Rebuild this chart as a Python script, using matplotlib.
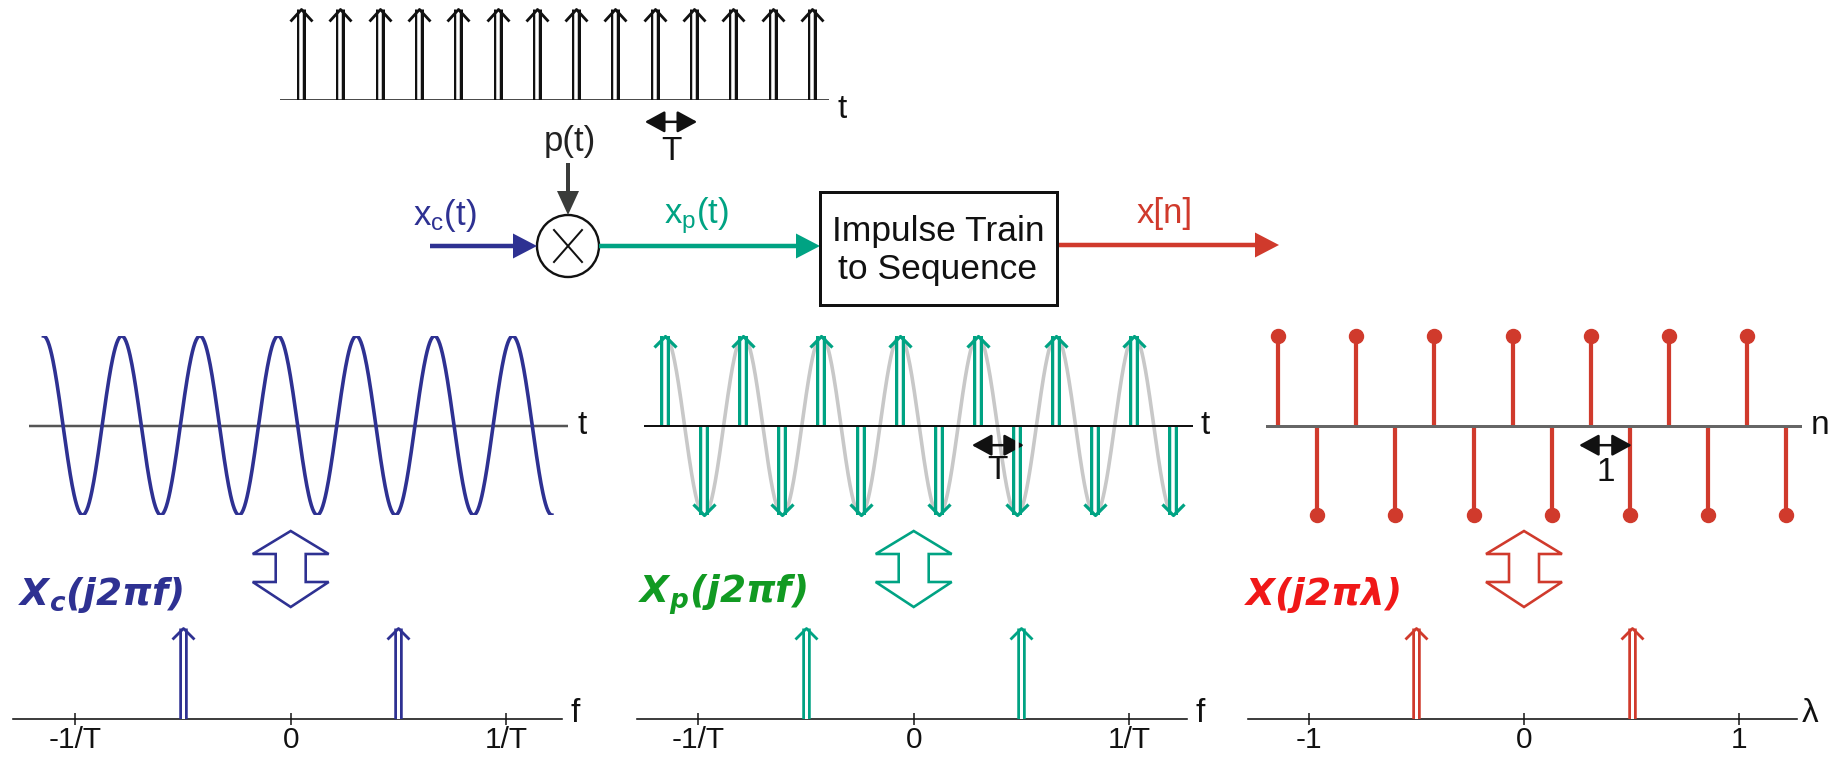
import numpy as np
import matplotlib.pyplot as plt
from matplotlib.path import Path
from matplotlib.patches import Polygon, Circle, Rectangle

W, H = 1836, 763
DPI = 100
PT = 72 / DPI  # points per pixel

plt.rcParams['font.family'] = ['Liberation Sans', 'DejaVu Sans']
plt.rcParams['mathtext.fontset'] = 'custom'
plt.rcParams['mathtext.rm'] = 'Liberation Sans'
plt.rcParams['mathtext.it'] = 'Liberation Sans:italic'
plt.rcParams['mathtext.bf'] = 'DejaVu Sans:italic:bold'
plt.rcParams['mathtext.default'] = 'rm'

BLUE = '#2E3192'
TEAL = '#00A383'
RED = '#D03A2C'
GRAY = '#C8C8C8'
DARK = '#3A3C3A'
INK = '#111111'

# ---- data (time in units of T, frequency in units of 1/T) ----
p_n = np.arange(14)                      # impulse train p(t)
p_h = [1] * 14
n_idx = np.arange(14)                    # sample index
x_n = [1, -1, 1, -1, 1, -1, 1, -1, 1, -1, 1, -1, 1, -1]
f0 = 0.5                                 # cosine frequency (1/T units)
t_end = 13                               # continuous signal shown on [0, 13T]
spec_f = [-0.5, 0.5]
spec_a = [1, 1]
tick_pos = [-1, 0, 1]
tick_f = ['-1/T', '0', '1/T']
tick_lam = ['-1', '0', '1']

t = np.linspace(0, t_end, 800)
x_c = np.cos(2 * np.pi * f0 * t)

fig = plt.figure(figsize=(W / DPI, H / DPI), dpi=DPI)
ov = fig.add_axes([0, 0, 1, 1])
ov.set_xlim(0, W)
ov.set_ylim(H, 0)
ov.axis('off')


def px_axes(x0, x1, y0, y1, xlim, ylim, off=True):
    a = fig.add_axes([x0 / W, 1 - y1 / H, (x1 - x0) / W, (y1 - y0) / H])
    a.set_xlim(*xlim)
    a.set_ylim(*ylim)
    a.patch.set_alpha(0)
    if off:
        a.axis('off')
    return a


def chevron(hw, hh, up=True):
    m = max(hw, hh)
    s = -1 if up else 1
    verts = [(-hw / m, s * hh / m), (0, 0), (hw / m, s * hh / m)]
    return Path(verts, [Path.MOVETO, Path.LINETO, Path.LINETO]), 2 * m * PT


def impulses(a, xs, hs, color, width=9, gap=3.5, hw=10, hh=11, lwh=2.5):
    up_m, ms = chevron(hw, hh, True)
    dn_m, _ = chevron(hw, hh, False)
    for x, h in zip(xs, hs):
        a.plot([x, x], [0, h], color=color, lw=width * PT, solid_capstyle='butt', zorder=3)
        a.plot([x, x], [0, h], color='white', lw=gap * PT, solid_capstyle='butt', zorder=3.1)
        a.plot([x], [h], marker=up_m if h > 0 else dn_m, ms=ms, mfc='none',
               mec=color, mew=lwh * PT, zorder=3.2, clip_on=False)


def end_label(a, s, dx, dy, size=24):
    a.annotate(s, xy=(1, 0), xycoords=('axes fraction', 'data'),
               xytext=(dx * PT, dy * PT), textcoords='offset points',
               ha='center', va='center', fontsize=size, color=INK,
               annotation_clip=False)


def span_arrow(a, x0, x1, y, label, ly):
    a.annotate('', xy=(x1, y), xytext=(x0, y),
               arrowprops=dict(arrowstyle='<|-|>,head_length=0.55,head_width=0.3',
                               color=INK, lw=1.8, shrinkA=0, shrinkB=0,
                               mutation_scale=22), annotation_clip=False)
    a.text((x0 + x1) / 2, ly, label, ha='center', va='center', fontsize=24,
           color=INK, clip_on=False)


# ---- top: impulse train p(t) ----
T_px = 39.3
top = px_axes(280, 829, 9, 100, ((280 - 301) / T_px, (829 - 301) / T_px), (0, 1))
impulses(top, p_n, p_h, INK, width=9, gap=3.5, hw=11, hh=12, lwh=2.8)
top.axhline(0, color=INK, lw=1.5 * PT, zorder=4)
end_label(top, 't', 13, -10)
span_arrow(top, 8.75, 10.08, -0.24, 'T', -0.57)

# ---- block diagram ----
ROW = 246
cx, r = 568, 31
ov.add_patch(Circle((cx, ROW), r, fill=False, lw=2.4 * PT, ec=INK))
ov.plot([cx - 14, cx + 14], [ROW - 16, ROW + 16], color=INK, lw=2 * PT)
ov.plot([cx - 14, cx + 14], [ROW + 16, ROW - 16], color=INK, lw=2 * PT)
ov.text(cx + 2, 142, 'p(t)', ha='center', va='center', fontsize=25, color='#222222')
ov.arrow(cx, 163, 0, ROW - r - 163, width=4, head_width=22, head_length=24,
         length_includes_head=True, color=DARK, lw=0)
ov.arrow(430, ROW, cx - r - 430, 0, width=4.5, head_width=25, head_length=24,
         length_includes_head=True, color=BLUE, lw=0)
ov.arrow(cx + r, ROW, 820 - cx - r, 0, width=4.5, head_width=25, head_length=24,
         length_includes_head=True, color=TEAL, lw=0)
ov.arrow(1057, ROW - 1, 1279 - 1057, 0, width=4.5, head_width=25, head_length=24,
         length_includes_head=True, color=RED, lw=0)
ov.add_patch(Rectangle((820, 192), 237, 113, fill=False, lw=3 * PT, ec=INK))
ov.text(938, 231, 'Impulse Train', ha='center', va='center', fontsize=25.5, color=INK)
ov.text(938, 270, 'to Sequence', ha='center', va='center', fontsize=25.5, color=INK)
ov.text(445, 216, r'$\mathrm{x_c(t)}$', ha='center', va='center', fontsize=25, color=BLUE)
ov.text(696, 216, r'$\mathrm{x_p(t)}$', ha='center', va='center', fontsize=25, color=TEAL)
ov.text(1165, 214, 'x[n]', ha='center', va='center', fontsize=25, color=RED)

# ---- time-domain panels ----
Y0, Y1 = 336, 515
Tp = 39.1

a1 = px_axes(29, 568, Y0, Y1, ((29 - 43.5) / Tp, (568 - 43.5) / Tp), (-1, 1))
a1.axhline(0, color='#555555', lw=2.5 * PT, zorder=1)
a1.plot(t, x_c, color=BLUE, lw=3.6 * PT, zorder=2)
end_label(a1, 't', 14, 0)

a2 = px_axes(644, 1193, Y0, Y1, ((644 - 665) / Tp, (1193 - 665) / Tp), (-1, 1))
a2.plot(t, x_c, color=GRAY, lw=3.6 * PT, zorder=1)
impulses(a2, n_idx, x_n, TEAL, width=10, gap=3.5, hw=11, hh=11, lwh=3.2)
a2.axhline(0, color=INK, lw=2 * PT, zorder=4)
end_label(a2, 't', 12, 0)
span_arrow(a2, 7.85, 9.18, -0.22, 'T', -0.5)

a3 = px_axes(1266, 1802, Y0, Y1, ((1266 - 1278) / Tp, (1802 - 1278) / Tp), (-1, 1))
a3.vlines(n_idx, 0, x_n, color=RED, lw=4.2 * PT, zorder=2)
a3.plot(n_idx, x_n, 'o', color=RED, ms=14 * PT, zorder=3, clip_on=False)
a3.axhline(0, color='#666666', lw=3 * PT, zorder=4)
end_label(a3, 'n', 18, 0)
span_arrow(a3, 7.7, 9.05, -0.22, '1', -0.53)

# ---- spectra ----
S_px = 215.4
SY0, SY1 = 628, 719
specs = [
    (13, 562, 290.7, BLUE, tick_f, 'f', r'$\mathbf{X_c(j2\pi f)}$', BLUE, 18),
    (637, 1187, 913.7, TEAL, tick_f, 'f', r'$\mathbf{X_p(j2\pi f)}$', '#119A22', 638),
    (1248, 1797, 1524, RED, tick_lam, r'$\lambda$', r'$\mathbf{X(j2\pi\lambda)}$', '#F01818', 1244),
]
for x0, x1, c0, col, tl, axl, lab, labcol, lx in specs:
    a = px_axes(x0, x1, SY0, SY1, ((x0 - c0) / S_px, (x1 - c0) / S_px), (0, 1), off=False)
    for s in ('top', 'left', 'right'):
        a.spines[s].set_visible(False)
    a.spines['bottom'].set_linewidth(1.6 * PT)
    a.spines['bottom'].set_color(INK)
    a.set_yticks([])
    a.set_xticks(tick_pos, tl)
    a.tick_params(axis='x', direction='inout', length=12 * PT, width=1.5 * PT,
                  labelsize=21.5, pad=1, colors=INK)
    impulses(a, spec_f, spec_a, col, width=8.5, gap=3, hw=11, hh=11, lwh=2.8)
    end_label(a, axl, 13, 6)
    # hollow up/down arrow
    cy = 569
    shape = [(0, -38), (38, -15), (15, -15), (15, 13), (38, 13), (0, 38),
             (-38, 13), (-15, 13), (-15, -15), (-38, -15)]
    ov.add_patch(Polygon([(c0 + dx, cy + dy) for dx, dy in shape], closed=True,
                         fill=False, ec=col, lw=2.6 * PT, joinstyle='miter'))
    ov.text(lx, 595, lab, ha='left', va='center', fontsize=27, color=labcol)

fig.savefig('out.png', dpi=DPI)
